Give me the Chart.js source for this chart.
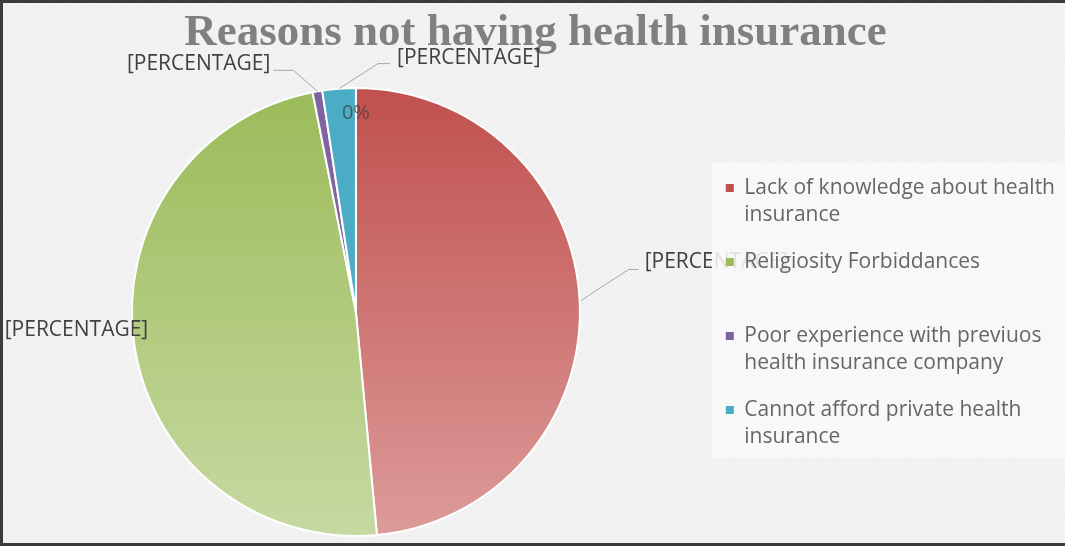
<!DOCTYPE html>
<html lang="en">
<head>
<meta charset="UTF-8">
<title>Reasons not having health insurance</title>
<script src="https://cdn.jsdelivr.net/npm/chart.js"></script>
<style>
  html, body { margin: 0; padding: 0; }
  body {
    width: 1065px; height: 546px; position: relative; overflow: hidden;
    background-color: #f0f0f0;
    background-image: repeating-linear-gradient(135deg, rgba(255,255,255,0.3) 0 1px, rgba(0,0,0,0) 1px 3px);
  }
  canvas { position: absolute; left: 0; top: 0; }
  #frame {
    position: absolute; left: 0; top: 0; width: 1065px; height: 546px; box-sizing: border-box;
    border-top: 3px solid #3c3c3c; border-left: 3px solid #3c3c3c; border-bottom: 3px solid #3c3c3c;
    pointer-events: none;
  }
</style>
</head>
<body>
<canvas id="pieChart" width="1065" height="546"></canvas>
<div id="frame"></div>
<script>
  // data (clockwise from 12 o'clock)
  const categories = [
    'Lack of knowledge about health insurance',
    'Religiosity Forbiddances',
    'Poor experience with previuos health insurance company',
    'Cannot afford private health insurance'
  ];
  const legendLines = [
    ['Lack of knowledge about health', 'insurance'],
    ['Religiosity Forbiddances', ''],
    ['Poor experience with previuos', 'health insurance company'],
    ['Cannot afford private health', 'insurance']
  ];
  const shares = [48.5, 48.4, 0.7, 2.4];
  const sliceLabels = ['[PERCENTAGE]', '[PERCENTAGE]', '[PERCENTAGE]', '[PERCENTAGE]'];
  const strayLabel = '0%';

  const topColors = ['#c0504d', '#9bbb59', '#8064a2', '#4bacc6'];
  const bottomColors = ['#dc9b9a', '#c6d9a1', '#8064a2', '#4bacc6'];

  // where each data label sits, relative to the slice's outer mid point
  const placements = [
    { line: [[49, -32], [59, -32]], text: [65, -39], align: 'left' },
    { line: [], text: [14, -14], align: 'right' },
    { line: [[-24, -21], [-44, -21]], text: [-47, -27], align: 'right' },
    { line: [[39, -25], [51, -25]], text: [58, -31], align: 'left' }
  ];

  function sliceFill(ctx) {
    const i = ctx.dataIndex;
    const area = ctx.chart.chartArea;
    if (!area) return topColors[i];
    const cy = (area.top + area.bottom) / 2;
    const r = Math.min(area.right - area.left, area.bottom - area.top) / 2;
    const g = ctx.chart.ctx.createLinearGradient(0, cy - r, 0, cy + r);
    g.addColorStop(0, topColors[i]);
    g.addColorStop(1, bottomColors[i]);
    return g;
  }

  function drawLabel(chart, i) {
    const c = chart.ctx;
    const arc = chart.getDatasetMeta(0).data[i];
    const mid = (arc.startAngle + arc.endAngle) / 2;
    const ax = arc.x + Math.cos(mid) * arc.outerRadius;
    const ay = arc.y + Math.sin(mid) * arc.outerRadius;
    const p = placements[i];
    c.save();
    if (p.line.length) {
      c.strokeStyle = '#a6a6a6';
      c.lineWidth = 1;
      c.beginPath();
      c.moveTo(ax, ay);
      p.line.forEach(pt => c.lineTo(ax + pt[0], ay + pt[1]));
      c.stroke();
    }
    c.font = '21px "Open Sans"';
    c.fillStyle = '#404040';
    c.textAlign = p.align;
    c.textBaseline = 'middle';
    c.fillText(sliceLabels[i], ax + p.text[0], ay + p.text[1]);
    c.restore();
  }

  const labelPlugin = {
    id: 'sliceLabels',
    beforeDraw(chart) {
      // the red label sits under the legend panel
      drawLabel(chart, 0);
      const lg = chart.legend;
      const c = chart.ctx;
      c.save();
      c.fillStyle = 'rgba(248,248,248,0.88)';
      c.fillRect(lg.left + 6, 163, chart.width - lg.left - 6, 295);
      c.restore();
    },
    afterDatasetsDraw(chart) {
      drawLabel(chart, 1);
      drawLabel(chart, 2);
      drawLabel(chart, 3);
      const arc = chart.getDatasetMeta(0).data[0];
      const c = chart.ctx;
      c.save();
      c.font = '20px "Open Sans"';
      c.fillStyle = 'rgba(64,64,64,0.75)';
      c.textAlign = 'center';
      c.textBaseline = 'middle';
      c.fillText(strayLabel, arc.x, arc.y - 199);
      c.restore();
    }
  };

  new Chart(document.getElementById('pieChart'), {
    type: 'pie',
    data: {
      labels: categories,
      datasets: [{
        data: shares,
        backgroundColor: sliceFill,
        borderColor: '#ffffff',
        borderWidth: 2
      }]
    },
    options: {
      responsive: false,
      animation: false,
      layout: { padding: { left: 6, right: 0, top: 0, bottom: 9 } },
      plugins: {
        title: {
          display: true,
          text: 'Reasons not having health insurance',
          color: '#808080',
          font: { family: '"Liberation Serif"', size: 45, weight: 'bold' },
          padding: { top: 6, bottom: 27 }
        },
        legend: {
          position: 'right',
          align: 'center',
          fullSize: false,
          title: {
            display: true,
            text: '',
            font: { size: 7, lineHeight: 1 },
            padding: 0
          },
          labels: {
            boxWidth: 8,
            boxHeight: 8,
            padding: 20,
            color: '#595959',
            font: { family: '"Open Sans"', size: 21, lineHeight: 27 / 21 },
            generateLabels: () => categories.map((name, i) => ({
              text: legendLines[i],
              fillStyle: topColors[i],
              strokeStyle: topColors[i],
              lineWidth: 0,
              hidden: false,
              index: i
            }))
          }
        },
        tooltip: { enabled: false }
      }
    },
    plugins: [labelPlugin]
  });
</script>
</body>
</html>
